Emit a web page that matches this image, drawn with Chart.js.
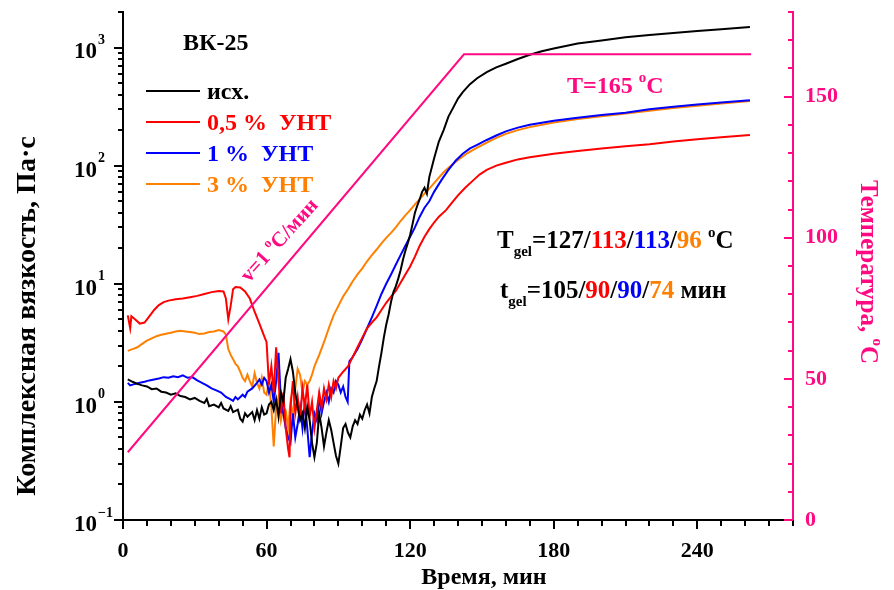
<!DOCTYPE html>
<html>
<head>
<meta charset="utf-8">
<script src="https://cdn.jsdelivr.net/npm/chart.js@4.4.1/dist/chart.umd.min.js"></script>
<style>
  html, body { margin: 0; padding: 0; background: #fff; }
  canvas { display: block; }
</style>
</head>
<body>
<canvas id="chart" width="894" height="590"></canvas>
<script>
// axis ticks
const xTicks = [0, 60, 120, 180, 240];
const tempTicks = [0, 50, 100, 150];
const etaDecades = [-1, 0, 1, 2, 3];

// series: [time, min ; complex viscosity, Pa*s]
const seriesNames = ['исх.', '0,5 %  УНТ', '1 %  УНТ', '3 %  УНТ'];
const seriesColors = ['#000000', '#ff0000', '#0000ff', '#ff8000'];

const pristine = [
  [2,1.55],[4,1.48],[6,1.42],[8,1.38],[10,1.35],[12,1.28],[14,1.3],[16,1.22],[18,1.2],[20,1.15],
  [22,1.18],[24,1.12],[26,1.1],[28,1.05],[30,1.08],[32,1.02],[34,0.98],[35,1.06],[36,0.92],[38,0.95],
  [40,0.9],[41,0.98],[42,0.88],[44,0.84],[45,0.92],[46,0.82],[48,0.86],[49,0.72],[50,0.68],[51,0.8],
  [52,0.75],[54,0.82],[55,0.7],[56,0.85],[57,0.72],[58,0.9],[59,0.78],[60,0.8],[61,0.95],[62,1.0],
  [63,0.85],[64,1.05],[65,0.75],[66,1.2],[67,1.0],[68,1.6],[69,1.9],[70,2.3],[71,1.8],[72,1.2],
  [73,0.9],[74,0.7],[75,0.8],[76,0.6],[77,0.9],[78,0.7],[79,0.45],[80,0.34],[81,0.45],[82,0.8],
  [83,0.6],[84,0.42],[85,0.55],[86,0.7],[87,0.58],[88,0.45],[89,0.35],[90,0.3],[91,0.42],[92,0.6],
  [93,0.65],[94,0.55],[95,0.5],[96,0.62],[97,0.7],[98,0.65],[99,0.78],[100,0.72],[101,0.85],[102,0.95],
  [103,0.8],[104,1.1],[105,1.3],[106,1.5],[107,2.0],[108,2.6],[109,3.5],[110,4.5],[111,5.5],[112,7],
  [113,8.5],[114,9.5],[115,11],[116,13],[117,16],[118,19],[119,22],[120,26],[121,32],[122,40],
  [123,46],[124,52],[125,60],[126,65],[127,58],[128,80],[130,115],[132,160],[134,200],[136,260],
  [138,310],[140,370],[142,420],[145,490],[148,550],[152,620],[156,680],[160,730],[165,800],[170,870],
  [175,930],[180,980],[190,1080],[200,1150],[210,1220],[220,1280],[230,1330],[240,1380],[250,1430],[262,1490]
];

const cnt05 = [
  [2,5.4],[3,4.2],[3.5,5.3],[5,5.0],[7,4.6],[9,4.7],[11,5.3],[13,6.0],[15,6.6],[17,7.0],
  [19,7.2],[22,7.4],[25,7.5],[28,7.7],[31,7.9],[34,8.2],[37,8.5],[40,8.7],[42,8.6],[43,7.5],
  [44,5.0],[45,6.5],[46,9.0],[47,9.4],[49,9.3],[51,8.6],[53,7.5],[55,5.8],[57,4.6],[59,3.6],
  [60,3.2],[61,1.4],[62,2.0],[63,1.2],[64,2.9],[65,1.5],[66,0.8],[67,1.2],[68,0.6],[69,0.4],
  [69.6,0.34],[70,0.9],[71,1.5],[72,0.8],[73,1.1],[74,0.7],[75,1.3],[76,0.9],[77,1.4],[78,0.75],
  [79,1.0],[80,0.6],[81,0.85],[82,1.2],[83,0.9],[84,1.3],[85,1.05],[86,1.4],[87,1.1],[88,1.5],
  [89,1.3],[90,1.6],[92,1.8],[94,2.0],[96,2.4],[98,2.9],[100,3.5],[102,4.2],[104,4.7],[106,5.2],
  [108,6.0],[110,6.9],[112,7.8],[114,8.7],[116,10.2],[118,12],[120,14],[122,17],[124,21],[126,25],
  [128,29],[130,33],[132,37],[135,42],[138,50],[140,56],[143,65],[146,74],[149,84],[152,92],
  [156,100],[160,106],[165,113],[170,118],[180,126],[190,133],[200,140],[210,146],[220,152],[230,160],
  [240,167],[250,174],[262,182]
];

const cnt1 = [
  [2,1.45],[3,1.38],[5,1.42],[7,1.45],[9,1.48],[11,1.52],[13,1.55],[15,1.58],[17,1.62],[19,1.6],
  [21,1.65],[23,1.62],[25,1.68],[27,1.6],[29,1.62],[31,1.52],[33,1.45],[35,1.38],[37,1.3],[39,1.25],
  [41,1.2],[43,1.1],[45,1.05],[46,1.02],[47,1.1],[48,1.05],[50,1.15],[51,1.1],[52,1.22],[54,1.3],
  [56,1.45],[57,1.55],[58,1.4],[59,1.6],[60,1.5],[61,1.2],[62,1.4],[63,1.0],[64,1.5],[65,2.6],
  [66,1.0],[67,0.8],[68,0.6],[69,0.5],[70,0.45],[71,0.8],[72,0.5],[73,0.65],[74,0.9],[75,0.6],
  [76,1.0],[77,0.6],[78,0.34],[79,0.55],[80,0.8],[81,0.7],[82,1.1],[83,0.8],[84,1.0],[85,1.2],
  [86,1.0],[87,1.3],[88,1.2],[89,1.5],[90,1.4],[91,1.2],[92,1.35],[93,1.1],[93.9,1.0],[94.6,2.2],
  [96,2.4],[98,2.8],[100,3.4],[102,4.2],[104,5.2],[106,6.5],[108,8.2],[110,10],[112,12],[114,14.5],
  [116,17.5],[118,21],[120,25],[122,30],[124,37],[126,44],[128,50],[130,60],[133,75],[136,92],
  [139,110],[142,126],[145,140],[148,150],[152,165],[156,180],[160,195],[165,210],[170,222],[180,240],
  [190,255],[200,268],[210,280],[220,300],[230,315],[240,330],[250,342],[262,358]
];

const cnt3 = [
  [2,2.7],[4,2.8],[6,2.9],[8,3.1],[10,3.3],[12,3.45],[14,3.6],[16,3.7],[18,3.78],[20,3.85],
  [22,3.95],[24,4.0],[26,3.95],[28,3.9],[30,3.85],[32,3.75],[34,3.8],[36,3.9],[38,3.95],[40,4.05],
  [42,3.95],[43,3.7],[44,2.8],[45,2.5],[46,2.3],[47,2.1],[48,2.0],[49,1.8],[50,1.6],[51,1.5],
  [52,1.7],[53,1.5],[54,1.35],[55,1.75],[56,1.45],[57,1.3],[58,1.6],[59,1.2],[60,1.15],[61,1.5],
  [62,0.9],[63,0.42],[64,0.9],[65,1.1],[66,0.7],[67,0.9],[68,0.85],[69,0.6],[70,1.0],[71,0.75],
  [72,1.3],[73,1.9],[74,1.7],[75,1.2],[76,1.5],[77,1.4],[78,1.5],[79,1.7],[80,2.0],[82,2.5],
  [84,3.2],[86,4.2],[88,5.4],[90,6.5],[92,7.8],[94,9.0],[96,10.5],[98,12],[100,13.5],[102,15.5],
  [104,17.5],[106,19.5],[108,22],[110,24.5],[112,27],[114,30],[116,34],[118,38],[120,42],[122,47],
  [124,52],[126,58],[128,64],[131,75],[134,88],[137,100],[140,112],[144,128],[148,142],[152,157],
  [156,172],[160,186],[165,200],[170,212],[180,232],[190,248],[200,262],[210,276],[220,292],[230,308],
  [240,322],[250,336],[262,352]
];

// temperature program
const tempTime = [2, 142.5, 262.5];
const tempValue = [24, 165, 165];

// gel point values (pristine / 0.5 / 1 / 3 %)
const tGelTemp = ['127', '113', '113', '96'];
const tGelTime = ['105', '90', '90', '74'];

const SERIF = '"Liberation Serif", "Times New Roman", serif';
const MAGENTA = '#ff0a82';

const toXY = (arr) => arr.map(([x, y]) => ({ x, y }));
const etaSeries = [pristine, cnt05, cnt1, cnt3];

function richText(ctx, x, y, parts, size) {
  ctx.textAlign = 'left';
  ctx.textBaseline = 'alphabetic';
  for (const p of parts) {
    ctx.font = `bold ${p.size || size}px ${SERIF}`;
    ctx.fillStyle = p.color || '#000';
    ctx.fillText(p.t, x, y + (p.dy || 0));
    x += ctx.measureText(p.t).width;
  }
  return x;
}

function richWidth(ctx, parts, size) {
  let w = 0;
  for (const p of parts) {
    ctx.font = `bold ${p.size || size}px ${SERIF}`;
    w += ctx.measureText(p.t).width;
  }
  return w;
}

const decorPlugin = {
  id: 'decor',
  afterDraw(chart) {
    const { ctx, scales } = chart;
    const xs = scales.x, ys = scales.y, ts = scales.y2;
    const bottom = chart.chartArea.bottom;
    const left = chart.chartArea.left;
    const right = chart.chartArea.right;
    ctx.save();
    ctx.lineWidth = 2;

    // x ticks
    ctx.strokeStyle = '#000';
    for (let v = 0; v <= 280; v += 10) {
      const px = Math.round(xs.getPixelForValue(v));
      const len = v % 60 === 0 ? 9 : 6;
      ctx.beginPath(); ctx.moveTo(px, bottom); ctx.lineTo(px, bottom + len); ctx.stroke();
    }
    ctx.font = `bold 22px ${SERIF}`;
    ctx.fillStyle = '#000';
    ctx.textAlign = 'center';
    ctx.textBaseline = 'middle';
    xTicks.forEach(v => ctx.fillText(String(v), xs.getPixelForValue(v), 551));

    // left log ticks
    etaDecades.forEach(d => {
      for (let m = 1; m <= 9; m++) {
        const val = m * Math.pow(10, d);
        if (val > 2000) break;
        const py = Math.round(ys.getPixelForValue(val));
        const len = m === 1 ? 9 : 5;
        ctx.beginPath(); ctx.moveTo(left, py); ctx.lineTo(left - len, py); ctx.stroke();
      }
      const py = ys.getPixelForValue(Math.pow(10, d));
      ctx.font = `bold 23px ${SERIF}`;
      ctx.textAlign = 'right';
      ctx.textBaseline = 'middle';
      ctx.fillStyle = '#000';
      ctx.fillText('10', 97, py + 5);
      ctx.font = `bold 14px ${SERIF}`;
      ctx.textAlign = 'left';
      ctx.fillText(String(d).replace('-', '\u2212'), 98, py - 7);
    });

    // right temperature ticks
    ctx.strokeStyle = MAGENTA;
    for (let v = 0; v <= 180; v += 10) {
      const py = Math.round(ts.getPixelForValue(v));
      const len = v % 50 === 0 ? 9 : 5;
      ctx.beginPath(); ctx.moveTo(right, py); ctx.lineTo(right - len, py); ctx.stroke();
    }
    ctx.fillStyle = MAGENTA;
    ctx.font = `bold 22px ${SERIF}`;
    ctx.textAlign = 'left';
    ctx.textBaseline = 'middle';
    tempTicks.forEach(v => ctx.fillText(String(v), 805, ts.getPixelForValue(v)));

    // axis titles
    ctx.fillStyle = '#000';
    ctx.font = `bold 24px ${SERIF}`;
    ctx.textAlign = 'center';
    ctx.textBaseline = 'middle';
    ctx.fillText('Время, мин', 484, 578);

    ctx.save();
    ctx.translate(28, 316);
    ctx.rotate(-Math.PI / 2);
    ctx.font = `bold 28px ${SERIF}`;
    ctx.fillText('Комплексная вязкость, Па·с', 0, 0);
    ctx.restore();

    ctx.save();
    ctx.translate(870, 272);
    ctx.rotate(Math.PI / 2);
    const rightTitle = [
      { t: 'Температура, ', color: MAGENTA },
      { t: 'o', color: MAGENTA, size: 15, dy: -12 },
      { t: 'C', color: MAGENTA }
    ];
    richText(ctx, -richWidth(ctx, rightTitle, 25) / 2, 9, rightTitle, 25);
    ctx.restore();

    // sample label and legend
    ctx.font = `bold 24px ${SERIF}`;
    ctx.fillStyle = '#000';
    ctx.textAlign = 'left';
    ctx.textBaseline = 'middle';
    ctx.fillText('ВК-25', 183, 44);
    const legendY = [91, 122, 153, 184];
    seriesNames.forEach((name, i) => {
      ctx.strokeStyle = seriesColors[i];
      ctx.lineWidth = 2;
      ctx.beginPath(); ctx.moveTo(146, legendY[i]); ctx.lineTo(200, legendY[i]); ctx.stroke();
      ctx.fillStyle = seriesColors[i];
      ctx.font = `bold 24px ${SERIF}`;
      ctx.textAlign = 'left';
      ctx.textBaseline = 'middle';
      ctx.fillText(name, 207, legendY[i] + 2);
    });

    // temperature annotations
    richText(ctx, 567, 93, [
      { t: 'T=165 ', color: MAGENTA },
      { t: 'o', color: MAGENTA, size: 15, dy: -11 },
      { t: 'C', color: MAGENTA }
    ], 24);

    ctx.save();
    ctx.translate(249, 283);
    ctx.rotate(-Math.atan2(2.82, 2.4) + 0.03);
    richText(ctx, 0, 0, [
      { t: 'v=1 ', color: MAGENTA },
      { t: 'o', color: MAGENTA, size: 13, dy: -9 },
      { t: 'C/мин', color: MAGENTA }
    ], 21);
    ctx.restore();

    // gel point annotations
    const gelT = [{ t: 'T' }, { t: 'gel', size: 15, dy: 8 }, { t: '=' }];
    tGelTemp.forEach((s, i) => {
      gelT.push({ t: s, color: seriesColors[i] });
      if (i < 3) gelT.push({ t: '/' });
    });
    gelT.push({ t: ' ' }, { t: 'o', size: 15, dy: -11 }, { t: 'C' });
    richText(ctx, 497, 248, gelT, 25);

    const gelt = [{ t: 't' }, { t: 'gel', size: 15, dy: 8 }, { t: '=' }];
    tGelTime.forEach((s, i) => {
      gelt.push({ t: s, color: seriesColors[i] });
      if (i < 3) gelt.push({ t: '/' });
    });
    gelt.push({ t: ' мин' });
    richText(ctx, 500, 298, gelt, 25);

    ctx.restore();
  }
};

const datasets = etaSeries.map((s, i) => ({
  label: seriesNames[i],
  data: toXY(s),
  borderColor: seriesColors[i],
  borderWidth: 2,
  pointRadius: 0,
  tension: 0,
  yAxisID: 'y',
  order: i
}));
datasets.push({
  label: 'T',
  data: tempTime.map((t, i) => ({ x: t, y: tempValue[i] })),
  borderColor: MAGENTA,
  borderWidth: 2,
  pointRadius: 0,
  tension: 0,
  yAxisID: 'y2',
  order: -1
});

new Chart(document.getElementById('chart'), {
  type: 'line',
  data: { datasets },
  options: {
    responsive: false,
    animation: false,
    devicePixelRatio: 1,
    layout: { padding: { top: 12, left: 0, right: 0, bottom: 0 } },
    plugins: { legend: { display: false }, tooltip: { enabled: false } },
    scales: {
      x: {
        type: 'linear', min: 0, max: 280, position: 'bottom',
        grid: { display: false },
        border: { color: '#000', width: 2 },
        ticks: { display: false },
        afterFit: (s) => { s.height = 70; }
      },
      y: {
        type: 'logarithmic', min: 0.1, max: 2000, position: 'left',
        grid: { display: false },
        border: { color: '#000', width: 2 },
        ticks: { display: false },
        afterFit: (s) => { s.width = 123; }
      },
      y2: {
        type: 'linear', min: 0, max: 180, position: 'right',
        grid: { display: false },
        border: { color: MAGENTA, width: 2 },
        ticks: { display: false },
        afterFit: (s) => { s.width = 101; }
      }
    }
  },
  plugins: [decorPlugin]
});
</script>
</body>
</html>
